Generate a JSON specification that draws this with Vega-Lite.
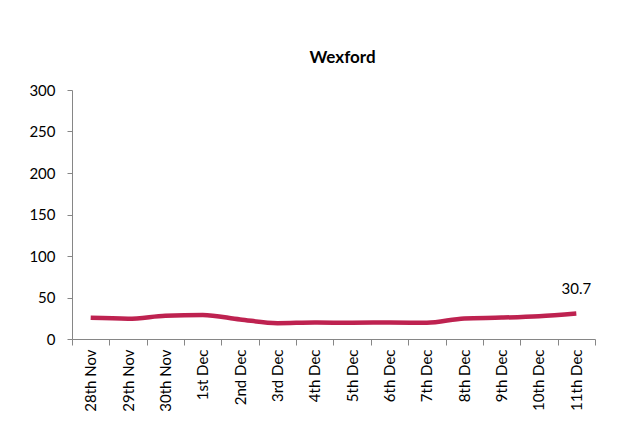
{
  "$schema": "https://vega.github.io/schema/vega-lite/v6.json",
  "width": 523,
  "height": 249,
  "autosize": {"type": "none"},
  "padding": {"left": 72, "top": 90, "right": 25, "bottom": 105},
  "background": "white",
  "config": {"view": {"stroke": null}, "font": "Lato"},
  "title": {"text": "Wexford", "fontSize": 17, "fontWeight": "bold", "font": "Lato", "color": "#000000", "anchor": "middle", "dx": 9, "offset": 16},
  "data": {"values": [
    {"date": "28th Nov", "value": 25.5},
    {"date": "29th Nov", "value": 24.5},
    {"date": "30th Nov", "value": 28.0},
    {"date": "1st Dec", "value": 29.0},
    {"date": "2nd Dec", "value": 23.6},
    {"date": "3rd Dec", "value": 19.1},
    {"date": "4th Dec", "value": 19.9},
    {"date": "5th Dec", "value": 19.5},
    {"date": "6th Dec", "value": 19.9},
    {"date": "7th Dec", "value": 19.5},
    {"date": "8th Dec", "value": 24.8},
    {"date": "9th Dec", "value": 25.8},
    {"date": "10th Dec", "value": 27.5},
    {"date": "11th Dec", "value": 30.7, "label": "30.7"}
  ]},
  "encoding": {
    "x": {"field": "date", "type": "nominal", "sort": null, "bandPosition": 0.5,
      "scale": {"type": "band", "paddingInner": 0, "paddingOuter": 0},
      "axis": {"title": null, "labelAngle": -90, "labelAlign": "right", "labelBaseline": "middle", "labelFontSize": 15, "labelColor": "#000000", "labelPadding": 4,
        "tickBand": "extent", "tickSize": 6, "tickColor": "#868686", "domainColor": "#868686", "grid": false}},
    "y": {"field": "value", "type": "quantitative",
      "scale": {"domain": [0, 300]},
      "axis": {"title": null, "values": [0, 50, 100, 150, 200, 250, 300], "labelFontSize": 15, "labelColor": "#000000", "labelPadding": 12,
        "tickSize": 5, "tickColor": "#868686", "domainColor": "#868686", "grid": false}}
  },
  "layer": [
    {"mark": {"type": "line", "color": "#BE2250", "strokeWidth": 4.5, "interpolate": "monotone"}},
    {"transform": [{"filter": "datum.label != null"}],
     "mark": {"type": "text", "fontSize": 15, "color": "#000000", "dy": -25, "align": "center"},
     "encoding": {"text": {"field": "label"}}}
  ]
}
